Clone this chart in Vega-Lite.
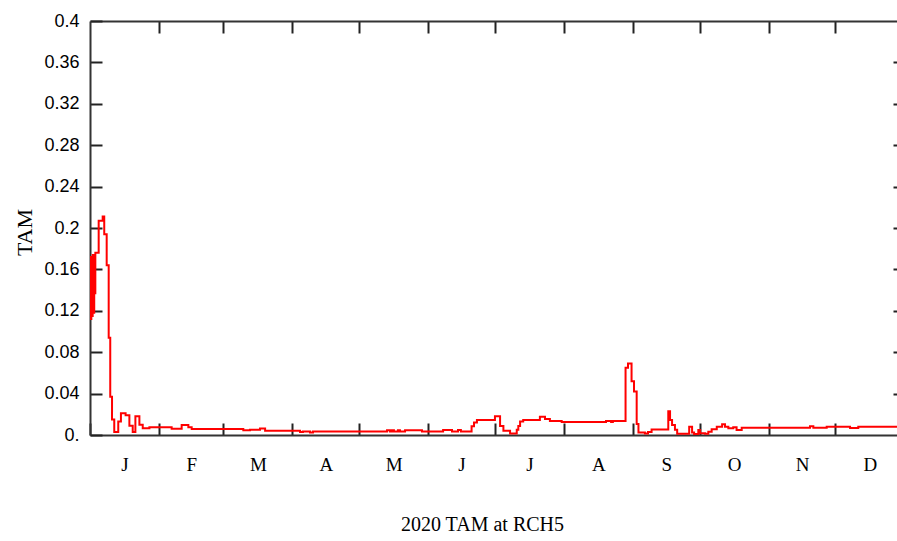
{
  "$schema": "https://vega.github.io/schema/vega-lite/v6.json",
  "width": 807,
  "height": 414,
  "autosize": {"type": "none"},
  "padding": {"left": 90, "top": 21, "right": 0, "bottom": 106},
  "background": "white",
  "config": {"view": {"stroke": null}},
  "data": {"values": [
    {"day": 0, "tam": 0.172}, {"day": 0.3, "tam": 0.112}, {"day": 0.6, "tam": 0.168}, {"day": 0.9, "tam": 0.115},
    {"day": 1.2, "tam": 0.174}, {"day": 1.5, "tam": 0.118}, {"day": 1.9, "tam": 0.137}, {"day": 2.4, "tam": 0.176},
    {"day": 3.9, "tam": 0.207}, {"day": 5.7, "tam": 0.211}, {"day": 6.4, "tam": 0.194}, {"day": 7.5, "tam": 0.164},
    {"day": 8.4, "tam": 0.094}, {"day": 9.1, "tam": 0.037}, {"day": 9.9, "tam": 0.015}, {"day": 10.9, "tam": 0.003},
    {"day": 12.7, "tam": 0.013}, {"day": 13.9, "tam": 0.021}, {"day": 16.0, "tam": 0.019}, {"day": 17.7, "tam": 0.009},
    {"day": 19.2, "tam": 0.003}, {"day": 20.4, "tam": 0.018}, {"day": 22.2, "tam": 0.010}, {"day": 23.7, "tam": 0.0065},
    {"day": 26.7, "tam": 0.0075}, {"day": 36.7, "tam": 0.006}, {"day": 41.2, "tam": 0.0097}, {"day": 44.2, "tam": 0.0075},
    {"day": 45.7, "tam": 0.0057}, {"day": 68.9, "tam": 0.0045}, {"day": 71.9, "tam": 0.005}, {"day": 76.4, "tam": 0.0062},
    {"day": 78.7, "tam": 0.0042}, {"day": 94.4, "tam": 0.0028}, {"day": 95.7, "tam": 0.0035}, {"day": 98.9, "tam": 0.0025},
    {"day": 100.2, "tam": 0.0035}, {"day": 131.7, "tam": 0.0033}, {"day": 133.5, "tam": 0.0045}, {"day": 134.8, "tam": 0.0033},
    {"day": 135.7, "tam": 0.0045}, {"day": 136.6, "tam": 0.0033}, {"day": 138.4, "tam": 0.0045}, {"day": 139.3, "tam": 0.0033},
    {"day": 141.6, "tam": 0.0045}, {"day": 149.2, "tam": 0.0033}, {"day": 158.7, "tam": 0.0048}, {"day": 162.7, "tam": 0.0033},
    {"day": 165.4, "tam": 0.0048}, {"day": 166.7, "tam": 0.0033}, {"day": 171.5, "tam": 0.0085}, {"day": 172.6, "tam": 0.012},
    {"day": 173.9, "tam": 0.0145}, {"day": 182, "tam": 0.018}, {"day": 184.3, "tam": 0.0087}, {"day": 185.8, "tam": 0.004},
    {"day": 188.8, "tam": 0.0015}, {"day": 191.8, "tam": 0.005}, {"day": 192.5, "tam": 0.0087}, {"day": 193.3, "tam": 0.013},
    {"day": 194.7, "tam": 0.0145}, {"day": 202.2, "tam": 0.0177}, {"day": 204.5, "tam": 0.0155}, {"day": 206.7, "tam": 0.0135},
    {"day": 212, "tam": 0.0125}, {"day": 231.9, "tam": 0.0135}, {"day": 234.2, "tam": 0.0125}, {"day": 235, "tam": 0.0135},
    {"day": 240.7, "tam": 0.065}, {"day": 241.8, "tam": 0.069}, {"day": 243.4, "tam": 0.052}, {"day": 244.5, "tam": 0.042},
    {"day": 245.7, "tam": 0.0106}, {"day": 246.5, "tam": 0.0025}, {"day": 249.4, "tam": 0.0015}, {"day": 250.8, "tam": 0.003},
    {"day": 252.4, "tam": 0.0052}, {"day": 259.9, "tam": 0.023}, {"day": 260.7, "tam": 0.0145}, {"day": 261.6, "tam": 0.0097},
    {"day": 262.9, "tam": 0.005}, {"day": 263.9, "tam": 0.0013}, {"day": 269.3, "tam": 0.008}, {"day": 270.6, "tam": 0.0025},
    {"day": 271.5, "tam": 0.001}, {"day": 273.4, "tam": 0.0048}, {"day": 274.2, "tam": 0.0016}, {"day": 276.4, "tam": 0.0012},
    {"day": 277.9, "tam": 0.0032}, {"day": 279.4, "tam": 0.0055}, {"day": 281.7, "tam": 0.008}, {"day": 284.1, "tam": 0.0103},
    {"day": 285.4, "tam": 0.008}, {"day": 286.9, "tam": 0.0065}, {"day": 289.1, "tam": 0.0075}, {"day": 290.6, "tam": 0.0048},
    {"day": 292.9, "tam": 0.007}, {"day": 323.6, "tam": 0.0085}, {"day": 325.1, "tam": 0.007}, {"day": 331.1, "tam": 0.008},
    {"day": 341.6, "tam": 0.0068}, {"day": 345.3, "tam": 0.008}, {"day": 366, "tam": 0.008}
  ]},
  "resolve": {"axis": {"x": "independent", "y": "independent"}},
  "layer": [
    {
      "mark": {"type": "line", "color": "#ff0000", "strokeWidth": 2, "interpolate": "step-after", "clip": true},
      "encoding": {
        "x": {
          "field": "day", "type": "quantitative",
          "scale": {"domain": [0, 362.7], "nice": false, "zero": false},
          "axis": {
            "orient": "bottom",
            "values": [0, 15.5, 31, 45.5, 60, 75.5, 91, 106, 121, 136.5, 152, 167, 182, 197.5, 213, 228.5, 244, 259, 274, 289.5, 305, 320, 335, 350.5],
            "labelExpr": "['J','F','M','A','M','J','J','A','S','O','N','D'][indexof([15.5,45.5,75.5,106,136.5,167,197.5,228.5,259,289.5,320,350.5], datum.value)] || ''",
            "tickOpacity": {"condition": {"test": "indexof([0,31,60,91,121,152,182,213,244,274,305,335], datum.value) >= 0", "value": 1}, "value": 0},
            "tickSize": -12, "tickWidth": 2, "tickColor": "#222",
            "domainColor": "#333", "domainWidth": 2,
            "grid": false,
            "labelFont": "Liberation Serif", "labelFontSize": 19, "labelColor": "#000",
            "labelPadding": 32, "labelFlush": false, "labelOverlap": false,
            "title": "2020 TAM at RCH5",
            "titleFont": "Liberation Serif", "titleFontSize": 20, "titleFontWeight": "normal", "titleColor": "#000",
            "titleX": 392, "titleY": 89, "titleAlign": "center", "titleBaseline": "middle"
          }
        },
        "y": {
          "field": "tam", "type": "quantitative",
          "scale": {"domain": [0, 0.4], "nice": false},
          "axis": {
            "orient": "left",
            "values": [0, 0.04, 0.08, 0.12, 0.16, 0.2, 0.24, 0.28, 0.32, 0.36, 0.4],
            "labelExpr": "datum.value == 0 ? '0.' : format(datum.value, '.2~f')",
            "tickSize": -12, "tickWidth": 2, "tickColor": "#222",
            "domainColor": "#333", "domainWidth": 2,
            "grid": false,
            "labelFont": "Liberation Sans", "labelFontSize": 18, "labelColor": "#000",
            "labelPadding": 23, "labelFlush": false, "labelOverlap": false,
            "title": "TAM",
            "titleFont": "Liberation Serif", "titleFontSize": 22, "titleFontWeight": "normal", "titleColor": "#000",
            "titleX": -66, "titleY": 211, "titleAngle": -90, "titleAlign": "center", "titleBaseline": "middle"
          }
        }
      }
    },
    {
      "mark": {"type": "line", "opacity": 0, "clip": true},
      "encoding": {
        "x": {
          "field": "day", "type": "quantitative",
          "axis": {
            "orient": "top",
            "values": [31, 60, 91, 121, 152, 182, 213, 244, 274, 305, 335],
            "labels": false, "title": null, "grid": false,
            "tickSize": -12, "tickWidth": 2, "tickColor": "#222",
            "domainColor": "#333", "domainWidth": 2
          }
        },
        "y": {
          "field": "tam", "type": "quantitative",
          "axis": {
            "orient": "right",
            "values": [0.04, 0.08, 0.12, 0.16, 0.2, 0.24, 0.28, 0.32, 0.36],
            "labels": false, "title": null, "grid": false, "domain": false,
            "tickSize": -4, "tickWidth": 2, "tickColor": "#222"
          }
        }
      }
    }
  ]
}
